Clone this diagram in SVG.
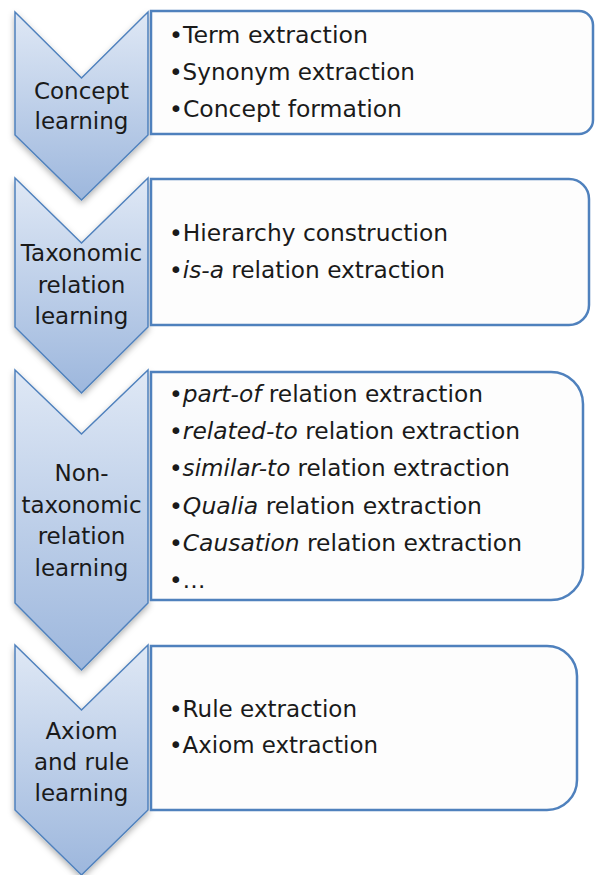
<svg xmlns="http://www.w3.org/2000/svg" width="595" height="875" viewBox="0 0 595 875">
<defs>
<linearGradient id="chev" x1="0" y1="0" x2="0" y2="1">
<stop offset="0" stop-color="#dfe8f5"/>
<stop offset="1" stop-color="#9db7dd"/>
</linearGradient>
<filter id="sh" x="-20%" y="-10%" width="140%" height="130%">
<feDropShadow dx="0" dy="3" stdDeviation="3" flood-color="#000" flood-opacity="0.3"/>
</filter>
<style>
.chev{fill:url(#chev);stroke:#4f81bd;stroke-width:1.5;filter:url(#sh)}
.box{fill:#fdfdfd;stroke:#4f81bd;stroke-width:2.5}
.lab{font-family:"DejaVu Sans",sans-serif;font-size:23px;fill:#1a1a1a;text-anchor:middle}
.item{font-family:"DejaVu Sans",sans-serif;font-size:23px;fill:#1a1a1a}
.it{font-style:italic}
</style>
</defs>
<rect width="595" height="875" fill="#fff"/>
<g id="connectors"/>
<g id="stage1">
<path class="chev" d="M15,12 L81.5,78 L148,12 V135 L81.5,200 L15,135 Z"/>
<text class="lab" x="81.5" y="99">Concept</text>
<text class="lab" x="81.5" y="129">learning</text>
</g>
<g id="box1">
<path class="box" d="M151,11 H579 A14,14 0 0 1 593,25 V120 A14,14 0 0 1 579,134 H151 Z"/>
<text class="item" x="169" y="43" textLength="199" lengthAdjust="spacingAndGlyphs">•Term extraction</text>
<text class="item" x="169" y="80" textLength="246" lengthAdjust="spacingAndGlyphs">•Synonym extraction</text>
<text class="item" x="169" y="117" textLength="233" lengthAdjust="spacingAndGlyphs">•Concept formation</text>
</g>
<g id="stage2">
<path class="chev" d="M15,178 L81.5,243 L148,178 V327 L81.5,393 L15,327 Z"/>
<text class="lab" x="81.5" y="261">Taxonomic</text>
<text class="lab" x="81.5" y="293">relation</text>
<text class="lab" x="81.5" y="324">learning</text>
</g>
<g id="box2">
<path class="box" d="M151,179 H569 A20,20 0 0 1 589,199 V305 A20,20 0 0 1 569,325 H151 Z"/>
<text class="item" x="169" y="241" textLength="279" lengthAdjust="spacingAndGlyphs">•Hierarchy construction</text>
<text class="item" x="169" y="278" textLength="276" lengthAdjust="spacingAndGlyphs">•<tspan class="it">is-a</tspan> relation extraction</text>
</g>
<g id="stage3">
<path class="chev" d="M15,370 L81.5,434 L148,370 V603 L81.5,670 L15,603 Z"/>
<text class="lab" x="81.5" y="481">Non-</text>
<text class="lab" x="81.5" y="513">taxonomic</text>
<text class="lab" x="81.5" y="544">relation</text>
<text class="lab" x="81.5" y="576">learning</text>
</g>
<g id="box3">
<path class="box" d="M151,372 H551 A32,32 0 0 1 583,404 V568 A32,32 0 0 1 551,600 H151 Z"/>
<text class="item" x="169" y="402" textLength="314" lengthAdjust="spacingAndGlyphs">•<tspan class="it">part-of</tspan> relation extraction</text>
<text class="item" x="169" y="439" textLength="351" lengthAdjust="spacingAndGlyphs">•<tspan class="it">related-to</tspan> relation extraction</text>
<text class="item" x="169" y="476" textLength="341" lengthAdjust="spacingAndGlyphs">•<tspan class="it">similar-to</tspan> relation extraction</text>
<text class="item" x="169" y="514" textLength="313" lengthAdjust="spacingAndGlyphs">•<tspan class="it">Qualia</tspan> relation extraction</text>
<text class="item" x="169" y="551" textLength="353" lengthAdjust="spacingAndGlyphs">•<tspan class="it">Causation</tspan> relation extraction</text>
<text class="item" x="169" y="588">•…</text>
</g>
<g id="stage4">
<path class="chev" d="M15,645 L81.5,710 L148,645 V810 L81.5,875 L15,810 Z"/>
<text class="lab" x="81.5" y="739">Axiom</text>
<text class="lab" x="81.5" y="770">and rule</text>
<text class="lab" x="81.5" y="801">learning</text>
</g>
<g id="box4">
<path class="box" d="M151,646 H547 A30,30 0 0 1 577,676 V780 A30,30 0 0 1 547,810 H151 Z"/>
<text class="item" x="169" y="717" textLength="188" lengthAdjust="spacingAndGlyphs">•Rule extraction</text>
<text class="item" x="169" y="753" textLength="209" lengthAdjust="spacingAndGlyphs">•Axiom extraction</text>
</g>
</svg>
